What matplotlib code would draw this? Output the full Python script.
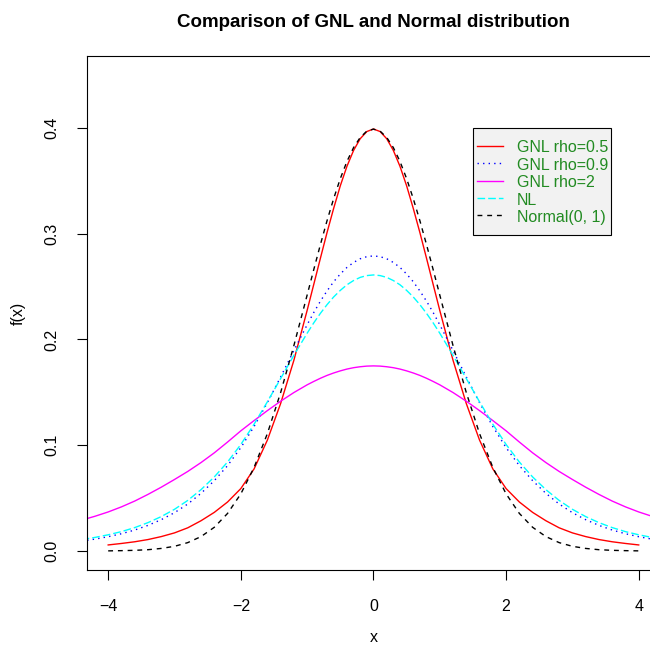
import matplotlib
matplotlib.use("Agg")
import matplotlib.pyplot as plt
from matplotlib.patches import Rectangle
import numpy as np

plt.rcParams['font.family'] = ['Liberation Sans', 'DejaVu Sans']

x_narrow = np.concatenate([np.linspace(-4, -1.2, 15), np.linspace(-1, 1, 21),
                           np.linspace(1.2, 4, 15)])
x_wide = np.concatenate([np.linspace(-4.4, -1.2, 17), np.linspace(-1, 1, 21),
                         np.linspace(1.2, 4.4, 17)])

gnl_05 = [0.0057, 0.0071, 0.0087, 0.0108, 0.0136, 0.0171, 0.0219, 0.0286, 0.0365, 0.0463,
          0.0590, 0.0776, 0.1048, 0.1394, 0.1803,
          0.2275, 0.2521, 0.2768, 0.3011, 0.3240, 0.3453, 0.3637, 0.3787, 0.3898, 0.3966,
          0.3990,
          0.3966, 0.3898, 0.3787, 0.3637, 0.3453, 0.3240, 0.3011, 0.2768, 0.2521, 0.2275,
          0.1803, 0.1394, 0.1048, 0.0776, 0.0590, 0.0463, 0.0365, 0.0286, 0.0219, 0.0171,
          0.0136, 0.0108, 0.0087, 0.0071, 0.0057]

normal01 = [0.0001, 0.0003, 0.0006, 0.0012, 0.0024, 0.0044, 0.0079, 0.0136, 0.0224, 0.0355,
            0.0540, 0.0790, 0.1109, 0.1497, 0.1942,
            0.2420, 0.2661, 0.2897, 0.3123, 0.3332, 0.3521, 0.3683, 0.3814, 0.3910, 0.3970,
            0.3989,
            0.3970, 0.3910, 0.3814, 0.3683, 0.3521, 0.3332, 0.3123, 0.2897, 0.2661, 0.2420,
            0.1942, 0.1497, 0.1109, 0.0790, 0.0540, 0.0355, 0.0224, 0.0136, 0.0079, 0.0044,
            0.0024, 0.0012, 0.0006, 0.0003, 0.0001]

gnl_09 = [0.0094, 0.0112, 0.0135, 0.0163, 0.0198, 0.0242, 0.0296, 0.0362, 0.0444, 0.0545,
          0.0665, 0.0807, 0.0977, 0.1177, 0.1402, 0.1645, 0.1895,
          0.2139, 0.2255, 0.2362, 0.2459, 0.2546, 0.2619, 0.2681, 0.2728, 0.2763, 0.2783,
          0.2790,
          0.2783, 0.2763, 0.2728, 0.2681, 0.2619, 0.2546, 0.2459, 0.2362, 0.2255, 0.2139,
          0.1895, 0.1645, 0.1402, 0.1177, 0.0977, 0.0807, 0.0665, 0.0545, 0.0444, 0.0362,
          0.0296, 0.0242, 0.0198, 0.0163, 0.0135, 0.0112, 0.0094]

gnl_2 = [0.0292, 0.0328, 0.0369, 0.0417, 0.0472, 0.0535, 0.0603, 0.0676, 0.0752, 0.0836,
         0.0928, 0.1030, 0.1136, 0.1233, 0.1327, 0.1416, 0.1498,
         0.1571, 0.1603, 0.1633, 0.1660, 0.1683, 0.1703, 0.1720, 0.1733, 0.1742, 0.1748,
         0.1750,
         0.1748, 0.1742, 0.1733, 0.1720, 0.1703, 0.1683, 0.1660, 0.1633, 0.1603, 0.1571,
         0.1498, 0.1416, 0.1327, 0.1233, 0.1136, 0.1030, 0.0928, 0.0836, 0.0752, 0.0676,
         0.0603, 0.0535, 0.0472, 0.0417, 0.0369, 0.0328, 0.0292]

nl = [0.0108, 0.0128, 0.0153, 0.0183, 0.0221, 0.0268, 0.0325, 0.0394, 0.0478, 0.0580,
      0.0700, 0.0841, 0.1007, 0.1199, 0.1410, 0.1630, 0.1850,
      0.2059, 0.2157, 0.2247, 0.2329, 0.2402, 0.2464, 0.2517, 0.2557, 0.2587, 0.2604,
      0.2610,
      0.2604, 0.2587, 0.2557, 0.2517, 0.2464, 0.2402, 0.2329, 0.2247, 0.2157, 0.2059,
      0.1850, 0.1630, 0.1410, 0.1199, 0.1007, 0.0841, 0.0700, 0.0580, 0.0478, 0.0394,
      0.0325, 0.0268, 0.0221, 0.0183, 0.0153, 0.0128, 0.0108]

labels = ["GNL rho=0.5", "GNL rho=0.9", "GNL rho=2", "NL", "Normal(0, 1)"]

fig = plt.figure(figsize=(6.5, 6.47), dpi=100)
ax = fig.add_axes([0.1338, 0.1190, 0.8815, 0.7944])

lw = 1.0
ax.plot(x_narrow, gnl_05, color='red', lw=lw, label=labels[0])
ax.plot(x_wide, gnl_09, color='blue', lw=lw, linestyle=(0, (1, 3)), label=labels[1])
ax.plot(x_wide, gnl_2, color='magenta', lw=lw, label=labels[2])
ax.plot(x_wide, nl, color='cyan', lw=lw, linestyle=(0, (5.5, 2.2)), label=labels[3])
ax.plot(x_narrow, normal01, color='black', lw=lw, linestyle=(0, (3.5, 3.5)), label=labels[4])

ax.set_xlim(-4.32, 4.32)
ax.set_ylim(-0.018, 0.468)
ax.set_xticks([-4, -2, 0, 2, 4])
ax.set_yticks([0.0, 0.1, 0.2, 0.3, 0.4])
ax.set_yticklabels(["0.0", "0.1", "0.2", "0.3", "0.4"], rotation=90, va='center')

ax.tick_params(direction='out', length=7.2, width=0.8, labelsize=11.5, pad=13)
ax.tick_params(axis='x', pad=14)
for s in ax.spines.values():
    s.set_linewidth(0.8)

ax.set_title("Comparison of GNL and Normal distribution", fontsize=13.5,
             fontweight='bold', pad=21)
ax.set_xlabel("x", fontsize=11.5)
ax.set_ylabel("f(x)", fontsize=11.5)
ax.xaxis.set_label_coords(0.5, -0.1304)
ax.xaxis.label.set_va('center')
ax.yaxis.set_label_coords(-0.1204, 0.5)
ax.yaxis.label.set_va('center')

# legend box drawn separately so its padding can be set freely
ax.add_patch(Rectangle((0.6737, 0.6517), 0.2408, 0.2082, transform=ax.transAxes,
                       facecolor='#f2f2f2', edgecolor='black', linewidth=0.8, zorder=4.5))
leg = ax.legend(loc='upper left', bbox_to_anchor=(0.6806, 0.838), borderaxespad=0,
                borderpad=0, fontsize=11.5, frameon=False, handlelength=1.63,
                handletextpad=0.88, handleheight=1.1, labelspacing=0.08)
for t in leg.get_texts():
    t.set_color('#228B22')

fig.savefig("out.png", dpi=100)
